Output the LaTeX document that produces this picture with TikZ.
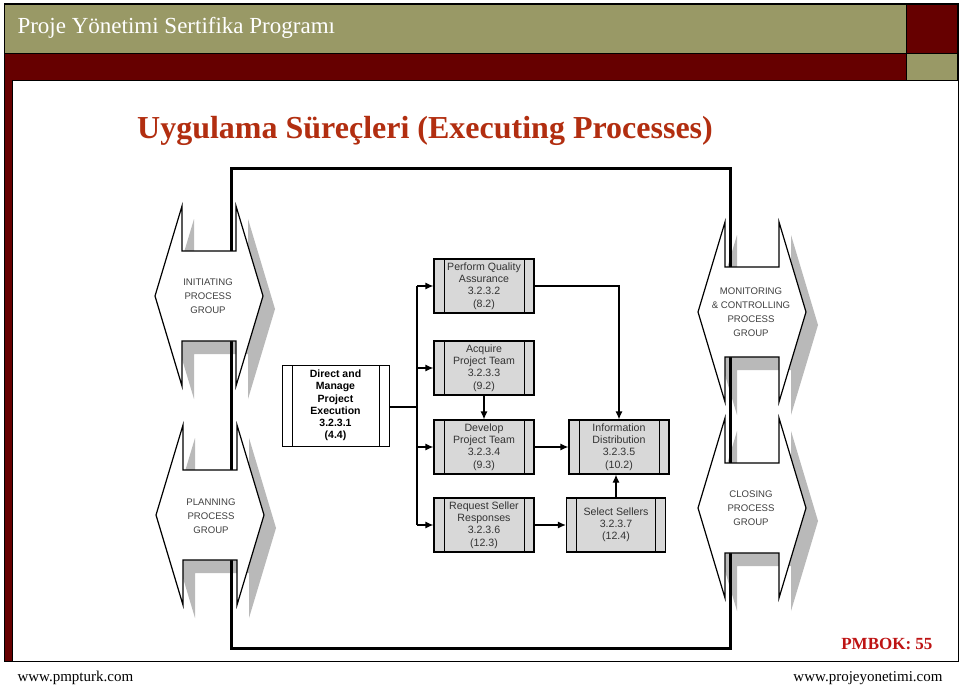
\documentclass[tikz,border=0pt]{standalone}
\usepackage{fontspec}
\setmainfont{Liberation Serif}
\setsansfont{Liberation Sans}
\usetikzlibrary{positioning,arrows.meta,calc}

\definecolor{olivebar}{RGB}{153,153,102}
\definecolor{darkbar}{RGB}{102,0,0}
\definecolor{titlered}{RGB}{178,46,16}
\definecolor{pmbokred}{RGB}{190,20,20}
\definecolor{boxgray}{RGB}{216,216,216}
\definecolor{shadowgray}{RGB}{185,185,185}

\begin{document}
\begin{tikzpicture}[x=1pt, y=-1pt,
  proc/.style={draw, line width=1.2pt, fill=boxgray, minimum width=100, minimum height=54, inner sep=0pt, align=center,
    font=\sffamily\fontsize{10.6}{12.2}\selectfont, text=black!80,
    path picture={\draw[line width=1pt]
      ([xshift=10pt]path picture bounding box.north west) -- ([xshift=10pt]path picture bounding box.south west)
      ([xshift=-10pt]path picture bounding box.north east) -- ([xshift=-10pt]path picture bounding box.south east);}},
  group/.style={align=center, font=\sffamily\fontsize{9.6}{14}\selectfont, text=black!75},
  arrow/.style={-{Latex[length=8pt,width=7pt]}, line width=1.2pt},
  conn/.style={line width=1.2pt}
]
\useasboundingbox (0,0) rectangle (960,685);
\fill[white] (0,0) rectangle (960,685);

% slide frame
\filldraw[fill=olivebar, line width=0.8pt] (4,4) rectangle (906,53);
\filldraw[fill=darkbar, line width=0.8pt] (906,4) rectangle (957,53);
\filldraw[fill=darkbar, line width=0.8pt] (4,53) rectangle (906,80);
\filldraw[fill=olivebar, line width=0.8pt] (906,53) rectangle (957,80);
\fill[darkbar] (4,80) rectangle (12,661);
\draw[line width=0.8pt] (12,80) -- (12,661);
\draw[line width=1pt] (4,4) rectangle (958,661);

\node[anchor=base west, text=white, font=\fontsize{23}{26}\selectfont] (header) at (14,34) {Proje Yönetimi Sertifika Programı};
\node[anchor=base, text=titlered, font=\bfseries\fontsize{32}{38}\selectfont] (title) at (425,138) {Uygulama Süreçleri (Executing Processes)};

% process groups
\foreach \cx/\cy in {209/296, 210/515, 752/312, 752/508}
  \fill[shadowgray, shift={(\cx+12,\cy+13)}] (-54,0) -- (-27,-90) -- (-27,-45) -- (27,-45) -- (27,-90) -- (54,0)
    -- (27,90) -- (27,45) -- (-27,45) -- (-27,90) -- cycle;
\draw[line width=3pt] (231,168) rectangle (730,648);
\foreach \cx/\cy in {209/296, 210/515, 752/312, 752/508}
  \filldraw[fill=white, line width=1.2pt, shift={(\cx,\cy)}] (-54,0) -- (-27,-90) -- (-27,-45) -- (27,-45) -- (27,-90) -- (54,0)
    -- (27,90) -- (27,45) -- (-27,45) -- (-27,90) -- cycle;

\node[group] (init) at (208,296) {INITIATING\\PROCESS\\GROUP};
\node[group] (plan) at (211,516) {PLANNING\\PROCESS\\GROUP};
\node[group] (moni) at (751,312) {MONITORING\\\& CONTROLLING\\PROCESS\\GROUP};
\node[group] (clos) at (751,508) {CLOSING\\PROCESS\\GROUP};

% executing processes
\node[proc, fill=white, line width=1pt, minimum width=107, minimum height=81, text=black,
  font=\sffamily\bfseries\fontsize{10.5}{12.2}\selectfont] (direct) at (335.5,405.5) {Direct and\\Manage\\Project\\Execution\\3.2.3.1\\(4.4)};
\node[proc] (pqa) at (484,286) {Perform Quality\\Assurance\\3.2.3.2\\(8.2)};
\node[proc] (acq) at (484,368) {Acquire\\Project Team\\3.2.3.3\\(9.2)};
\node[proc] (dev) at (484,447) {Develop\\Project Team\\3.2.3.4\\(9.3)};
\node[proc] (req) at (484,525) {Request Seller\\Responses\\3.2.3.6\\(12.3)};
\node[proc] (info) at (619,447) {Information\\Distribution\\3.2.3.5\\(10.2)};
\node[proc, minimum width=99] (sel) at (616,525) {Select Sellers\\3.2.3.7\\(12.4)};

\coordinate (split) at (417,407);
\draw[conn] (direct.east |- split) -- (split);
\draw[conn] (split |- pqa) -- (split |- req);
\foreach \b in {pqa,acq,dev,req}
  \draw[arrow] (split |- \b) -- (\b);
\draw[arrow] (acq) -- (dev);
\draw[arrow] (dev) -- (info);
\draw[arrow] (pqa) -| (info);
\draw[arrow] (req) -- (sel);
\draw[arrow] (sel.north) -- (sel.north |- info.south);

\node[anchor=base east, text=pmbokred, font=\bfseries\fontsize{17}{20}\selectfont] (pmbok) at (936,649) {PMBOK: 55};
\node[anchor=base west, font=\fontsize{15}{18}\selectfont] (site1) at (14,681) {www.pmpturk.com};
\node[anchor=base east, font=\fontsize{15}{18}\selectfont] (site2) at (946,681) {www.projeyonetimi.com};
\end{tikzpicture}
\end{document}
